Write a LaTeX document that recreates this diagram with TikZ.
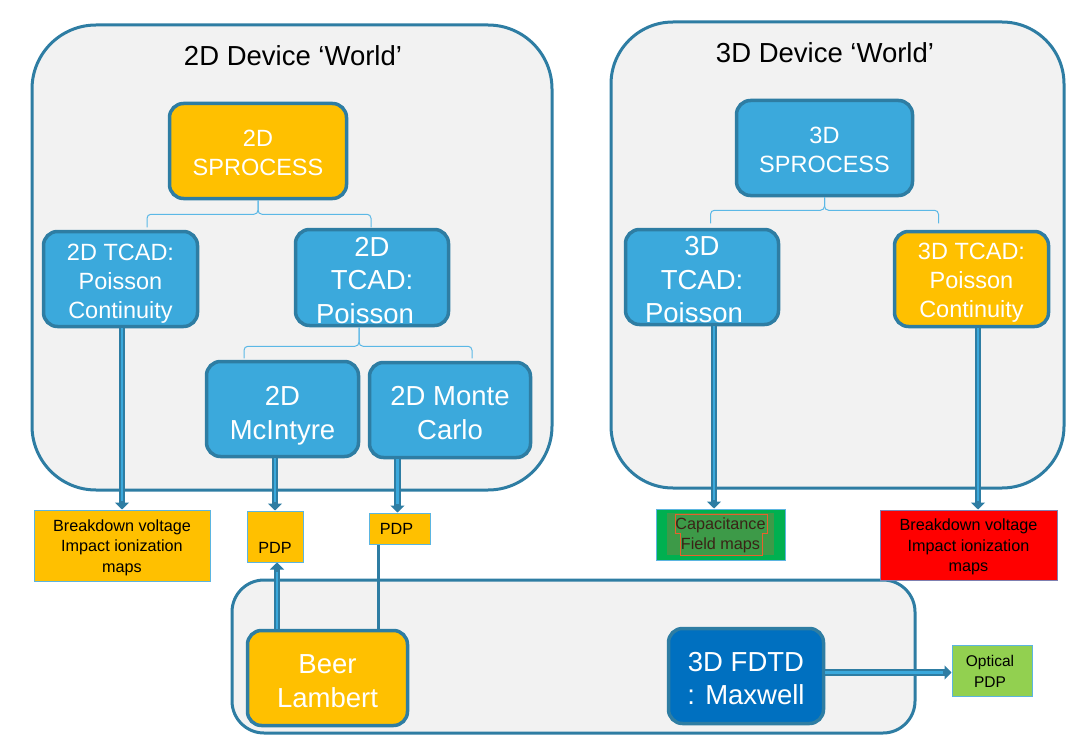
\documentclass[tikz,border=0pt]{standalone}
\usepackage{fontspec}
\setmainfont{Liberation Sans}
\usetikzlibrary{arrows.meta,calc}
\definecolor{bord}{HTML}{2E7DA3}
\definecolor{bgc}{HTML}{F2F2F2}
\definecolor{lblue}{HTML}{3BA9DC}
\definecolor{gold}{HTML}{FFC000}
\definecolor{dblue}{HTML}{0070C0}
\definecolor{obord}{HTML}{5BB5E0}
\definecolor{brc}{HTML}{5BB8E6}
\definecolor{capg}{HTML}{00B050}
\definecolor{capin}{HTML}{3D9A48}
\definecolor{capline}{HTML}{E8602C}
\definecolor{captext}{HTML}{3A2316}
\definecolor{optg}{HTML}{92D050}
\definecolor{redb}{HTML}{FF0000}
\definecolor{redbord}{HTML}{7F7FB0}
\begin{document}
\begin{tikzpicture}[x=1pt,y=-1pt,
 world/.style={draw=bord,line width=3pt,fill=bgc},
 proc/.style={draw=bord,line width=3.5pt,rounded corners=14pt,inner sep=0pt},
 ptxt/.style={text=white,align=center,inner sep=0pt},
 smalltxt/.style={font=\fontsize{23.5}{29}\selectfont},
 bigtxt/.style={font=\fontsize{27.5}{33.5}\selectfont},
 outbox/.style={draw=obord,line width=1pt,inner sep=0pt},
 otxt/.style={align=center,inner sep=0pt,font=\fontsize{16.2}{20.5}\selectfont},
 flow/.style={draw=bord,line width=6.5pt,-{Triangle[length=7pt,width=14pt]},postaction={draw=lblue,line width=2.3pt,-,shorten >=9pt}},
 bracepath/.style={draw=brc,line width=1pt,rounded corners=4pt},
 titletxt/.style={font=\fontsize{27.5}{33}\selectfont},
]
\useasboundingbox (0,0) rectangle (1091,746);

% worlds
\draw[world,rounded corners=64pt] (32,25) rectangle (552,490);
\draw[world,rounded corners=62pt] (611,22) rectangle (1064,488);
\draw[world,rounded corners=32pt] (232,580) rectangle (915,733);

\node[titletxt] (t2) at (293,56) {2D Device ‘World’};
\node[titletxt] (t3) at (825,53) {3D Device ‘World’};

% process nodes
\node[proc,fill=gold,minimum width=177pt,minimum height=95pt] (sp2) at (258,151) {};
\node[proc,fill=lblue,minimum width=154pt,minimum height=95pt] (tpc2) at (120.5,279) {};
\node[proc,fill=lblue,minimum width=153pt,minimum height=96pt] (tp2) at (372,277.5) {};
\node[proc,fill=lblue,minimum width=152pt,minimum height=95pt] (mc2) at (282.5,409) {};
\node[proc,fill=lblue,minimum width=161pt,minimum height=95pt] (mon2) at (450,410) {};
\node[proc,fill=lblue,minimum width=176pt,minimum height=95pt] (sp3) at (824.5,148) {};
\node[proc,fill=lblue,minimum width=153pt,minimum height=95pt] (tp3) at (702,277) {};
\node[proc,fill=gold,minimum width=154pt,minimum height=95pt] (tpc3) at (971.5,279) {};
\node[proc,fill=gold,minimum width=160pt,minimum height=95pt] (beer) at (327.5,678) {};
\node[proc,fill=dblue,minimum width=155pt,minimum height=95pt] (fdtd) at (746,676) {};

\node[ptxt,smalltxt] (sp2t) at ($(sp2.center)+(0,2)$) {2D\\SPROCESS};
\node[ptxt,smalltxt] (tpc2t) at ($(tpc2.center)+(0,4.5)$) {2D TCAD:\\Poisson\\Continuity};
\node[ptxt,bigtxt] (tp2t) at ($(tp2.center)+(0,3)$) {2D\\TCAD:\hspace*{4pt}\\Poisson\hspace*{14pt}};
\node[ptxt,bigtxt] (mc2t) at ($(mc2.center)+(0,6.5)$) {2D\\McIntyre};
\node[ptxt,bigtxt] (mon2t) at ($(mon2.center)+(0,3)$) {2D Monte\\Carlo};
\node[ptxt,smalltxt] (sp3t) at ($(sp3.center)+(0,2)$) {3D\\SPROCESS};
\node[ptxt,bigtxt] (tp3t) at ($(tp3.center)+(0,3)$) {3D\\TCAD:\hspace*{4pt}\\Poisson\hspace*{16pt}};
\node[ptxt,smalltxt] (tpc3t) at ($(tpc3.center)+(0,4)$) {3D TCAD:\\Poisson\\Continuity};
\node[ptxt,bigtxt] (beert) at ($(beer.center)+(0,3)$) {Beer\\Lambert};
\node[ptxt,bigtxt] (fdtdt) at ($(fdtd.center)+(0,2.5)$) {3D FDTD\\: Maxwell};

% braces
\draw[bracepath] ($(sp2.south)+(-111,27)$) -- ($(sp2.south)+(-111,14)$) -- ($(sp2.south)+(0,14)$) -- (sp2.south);
\draw[bracepath] ($(sp2.south)+(113,27)$) -- ($(sp2.south)+(113,14)$) -- ($(sp2.south)+(0,14)$) -- (sp2.south);
\coordinate (b2) at ($(tp2.south)+(-13,0)$);
\draw[bracepath] ($(b2)+(-115,31)$) -- ($(b2)+(-115,19)$) -- ($(b2)+(0,19)$) -- (b2);
\draw[bracepath] ($(b2)+(113,31)$) -- ($(b2)+(113,19)$) -- ($(b2)+(0,19)$) -- (b2);
\draw[bracepath] ($(sp3.south)+(-114,26)$) -- ($(sp3.south)+(-114,13)$) -- ($(sp3.south)+(0,13)$) -- (sp3.south);
\draw[bracepath] ($(sp3.south)+(114,26)$) -- ($(sp3.south)+(114,13)$) -- ($(sp3.south)+(0,13)$) -- (sp3.south);

% outputs
\node[outbox,fill=gold,minimum width=176pt,minimum height=71pt] (bd2) at (122,545.5) {};
\node[otxt] (bd2t) at ($(bd2.center)+(0,2)$) {Breakdown voltage\\Impact ionization\\maps};
\node[outbox,fill=gold,minimum width=56pt,minimum height=51pt] (pdp1) at (275,536.5) {};
\node[otxt] (pdp1t) at ($(pdp1.center)+(0,11)$) {PDP};
\node[outbox,fill=gold,minimum width=61pt,minimum height=31pt] (pdp2) at (399.5,528.5) {};
\node[otxt] (pdp2t) at ($(pdp2.center)+(-3,0.5)$) {PDP};
\node[outbox,fill=capg,minimum width=129pt,minimum height=51pt] (cap) at (720.5,534.5) {};
\fill[capin] (667,513) rectangle (774,555);
\draw[capline,line width=0.8pt] (675,514) -- (767,514) -- (767,533) -- (762,533) -- (762,555) -- (680,555) -- (680,533) -- (675,533) -- cycle;
\node[otxt,text=captext] (capt) at ($(cap.center)+(0,1)$) {Capacitance\\Field maps};
\node[outbox,draw=redbord,fill=redb,minimum width=177pt,minimum height=70pt] (bd3) at (968.5,545) {};
\node[otxt] (bd3t) at ($(bd3.center)+(0,2)$) {Breakdown voltage\\Impact ionization\\maps};
\node[outbox,fill=optg,minimum width=80pt,minimum height=51pt] (opt) at (992,670.5) {};
\node[otxt,font=\fontsize{15.5}{21}\selectfont] (optt) at ($(opt.center)+(-2,1)$) {Optical\\PDP};

% connectors
\draw[flow] ([xshift=1.5pt]tpc2.south) -- ([xshift=1.5pt]tpc2.south |- bd2.north);
\draw[flow] (pdp1.north |- mc2.south) -- (pdp1.north);
\draw[flow] ([xshift=-2pt]pdp2.north |- mon2.south) -- ([xshift=-2pt]pdp2.north);
\draw[flow] ([xshift=12pt]tp3.south) -- ([xshift=12pt]tp3.south |- cap.north);
\draw[flow] ([xshift=6.5pt]tpc3.south) -- ([xshift=6.5pt]tpc3.south |- bd3.north);
\draw[flow] ([xshift=2pt]pdp1.south |- beer.north) -- ([xshift=2pt]pdp1.south);
\draw[draw=bord,line width=3pt] ([xshift=-21.5pt]pdp2.south |- beer.north) -- ([xshift=-21.5pt]pdp2.south);
\draw[flow] ([yshift=-2pt]fdtd.east |- opt.west) -- ([yshift=-2pt]opt.west);
\end{tikzpicture}
\end{document}
